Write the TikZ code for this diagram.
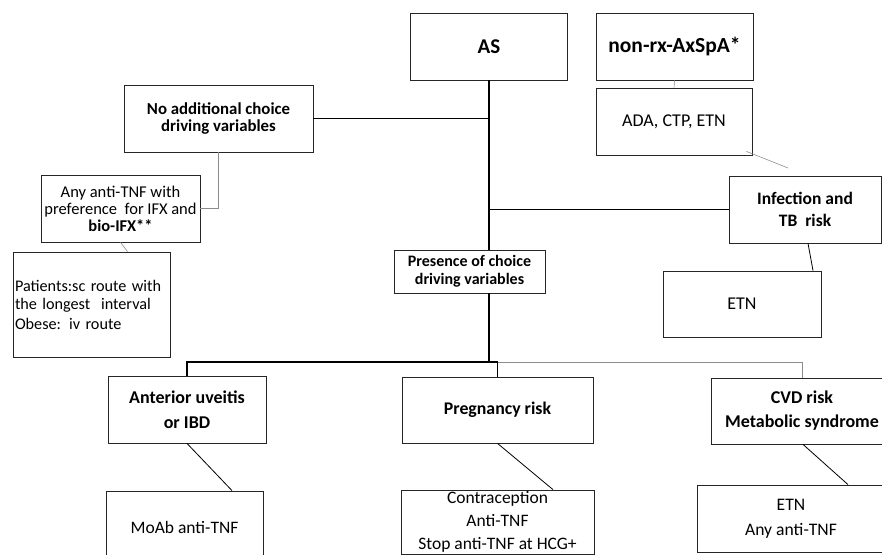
\documentclass[tikz,border=0pt]{standalone}
\usepackage{fontspec}
\setmainfont{Carlito}
\usetikzlibrary{calc}
\newcommand\fsz[2]{\fontsize{#1}{#2}\selectfont}
\tikzset{
  box/.style={draw=black!85, line width=0.8pt, align=center, inner sep=1pt,
    minimum height=67pt, font=\fsz{16.5}{17}},
  hdr/.style={box, font=\fsz{16.5}{17}\bfseries},
  link/.style={line width=1.3pt},
  thin/.style={draw=black!45, line width=0.6pt},
  diag/.style={line width=0.8pt},
}

\begin{document}
\begin{tikzpicture}[x=1pt,y=-1pt]
	\useasboundingbox (0,0) rectangle (882,554);
	
	% top row
	\node[hdr, minimum width=157pt, font=\fsz{21}{24}\bfseries] (as) at (489,46.5) {AS};
	\node[hdr, minimum width=157pt, font=\fsz{21.5}{24}\bfseries] (nonrx) at (674.5,46.5) {non-rx-AxSpA*};
	\node[box, minimum width=156pt, font=\fsz{18}{20}] (ada) at (674,121.5) {ADA, CTP, ETN};
	
	% left branch
	\node[hdr, minimum width=189pt, font=\fsz{16.8}{17}\bfseries] (noadd) at (218.5,118.5) {No additional choice\\driving variables};
	\node[box, minimum width=159pt] (anytnf) at (120.5,208.5) {Any anti-TNF with\\preference~ for IFX and\\\textbf{bio-IFX**}};
	\node[box, minimum width=157pt, minimum height=105pt, text width=153pt, align=left, font=\fsz{16.2}{18}] (patients) at (91.5,304.5)
		{Patients:sc route with\\the longest~ interval\\[2pt]Obese: iv route};
	
	% right branch
	\node[hdr, minimum width=152pt, font=\fsz{17.5}{22}\bfseries] (infect) at (805,209.5) {Infection and\\TB~~risk};
	\node[box, minimum width=158pt, minimum height=66pt, font=\fsz{18}{20}] (etn) at (742,304) {ETN};
	
	% centre
	\node[hdr, minimum width=151pt, minimum height=43pt, font=\fsz{16}{18}\bfseries] (pres) at (469.5,271.5)
		{Presence of choice\\driving variables};
	
	% bottom row
	\node[hdr, minimum width=158pt, font=\fsz{18}{25}\bfseries] (anter) at (187,409.5) {Anterior uveitis\\or IBD};
	\node[hdr, minimum width=191pt, minimum height=66pt, font=\fsz{17.8}{20}\bfseries] (preg) at (497.5,410) {Pregnancy risk};
	\node[hdr, minimum width=182pt, minimum height=66pt, font=\fsz{18}{24}\bfseries] (cvd) at (802,411) {CVD risk\\Metabolic syndrome};
	\node[box, minimum width=157pt, minimum height=72pt, font=\fsz{17.5}{20}] (moab) at (184.5,527) {MoAb anti-TNF};
	\node[box, minimum width=193pt, minimum height=64pt, font=\fsz{17.5}{23}] (contra) at (497.5,522)
		{Contraception\\Anti-TNF\\Stop anti-TNF at HCG+};
	\node[box, minimum width=188pt, font=\fsz{17.6}{25}] (etnany) at (791,518.5) {ETN\\Any anti-TNF};
	
	% trunk
	\coordinate (split) at (489,362);
	\coordinate (adaend) at (788,168);
	\draw[link] (as.south) -- (as.south |- pres.north);
	\draw[link] (noadd.east) -- (noadd.east -| as.south);
	\draw[link] (infect.west -| as.south) -- (infect.west);
	\draw[link] (as.south |- pres.south) -- (split) -| (anter.north);
	\draw[link] (split) -| (preg.north);
	\draw[thin] (split -| preg.north) -| (cvd.north);
	
	% thin links
	\draw[thin] (noadd.south) |- (anytnf.east);
	\draw[thin] (anytnf.south) -- ($(anytnf.south |- patients.north)+(7,0)$);
	\draw[thin] (nonrx.south) -- (ada.north);
	\draw[thin] ($(ada.south east)+(-6,-4)$) -- (adaend);
	
	% diagonals
	\draw[diag] ($(infect.south)+(3,0)$) -- ($(etn.north)+(71,0)$);
	\draw[diag] (anter.south) -- ($(moab.north)+(47.5,0)$);
	\draw[diag] (preg.south) -- ($(contra.north)+(55.5,0)$);
	\draw[diag] ($(cvd.south)+(1,0)$) -- ($(etnany.north)+(57,0)$);
\end{tikzpicture}
\end{document}
